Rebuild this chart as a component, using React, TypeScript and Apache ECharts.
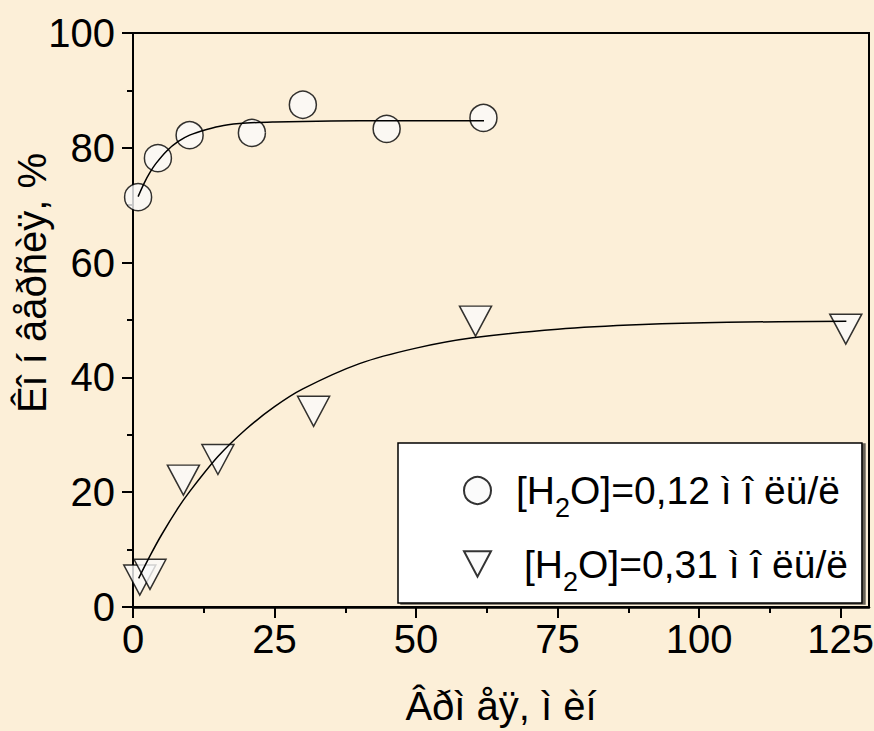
import React, { useEffect, useRef } from 'react';
import * as echarts from 'echarts';

// Axis ticks
const xMajorTicks = [0, 25, 50, 75, 100, 125];
const xMinorTicks = [12.5, 37.5, 62.5, 87.5, 112.5];

// Measured points
const series1Name = 'H2O_012';
const series1X = [0.9, 4.4, 10.0, 21.0, 30.0, 44.8, 61.9];
const series1Y = [71.4, 78.2, 82.2, 82.6, 87.5, 83.3, 85.2];

const series2Name = 'H2O_031';
const series2X = [1.2, 3.0, 8.9, 15.0, 31.9, 60.5, 125.9];
const series2Y = [4.7, 5.7, 22.1, 25.7, 34.1, 49.8, 48.4];

// Fitted curves
const fit1X = [0.9, 2, 3, 4, 6, 8, 10, 13, 16, 20, 25, 30, 40, 50, 62];
const fit1Y = [71.5, 73.9, 75.7, 77.2, 79.5, 81.1, 82.2, 83.2, 83.9, 84.3, 84.5, 84.6, 84.7, 84.7, 84.7];
const fit2X = [1, 3, 5, 8, 10, 15, 20, 25, 30, 40, 50, 60, 75, 90, 105, 126];
const fit2Y = [5.0, 8.9, 12.5, 17.3, 20.1, 26.2, 31.0, 34.9, 38.0, 42.4, 45.1, 46.9, 48.4, 49.2, 49.6, 49.8];

const xTitle = 'Âðì åÿ, ì èí';
const yTitle = 'Êî í âåðñèÿ, %';
const legend1Parts = ['[H', '2', 'O]=0,12 ì î ëü/ë'];
const legend2Parts = ['[H', '2', 'O]=0,31 ì î ëü/ë'];

const narrow = "'Liberation Sans Narrow', 'Arial Narrow', 'Liberation Sans', Arial, sans-serif";
const regular = "'Liberation Sans', Arial, sans-serif";

const zip = (xs: number[], ys: number[]) => xs.map((x, i) => [x, ys[i]]);

const triPath = 'path://M0 0L32 0L16 30Z';

const GRID = { left: 133, top: 33, width: 736, height: 574 };

export default function App() {
  const ref = useRef<HTMLDivElement>(null);
  useEffect(() => {
    document.body.style.margin = '0';
    if (!ref.current) return;
    const chart = echarts.init(ref.current, undefined, { renderer: 'svg' });
    const rich = {
      a: { fontSize: 39, fontFamily: narrow, color: '#000', lineHeight: 50, verticalAlign: 'middle' },
      b: { fontSize: 39, fontFamily: narrow, color: '#000', lineHeight: 50, verticalAlign: 'middle', padding: [0, 0, 0, 8] },
      s: { fontSize: 27, fontFamily: narrow, color: '#000', lineHeight: 50, verticalAlign: 'bottom', padding: [0, 0, -6, 0] },
    };
    chart.setOption({
      animation: false,
      backgroundColor: '#FCEFD8',
      grid: [
        {
          ...GRID,
          containLabel: false, outerBoundsMode: 'none',
          show: true, borderColor: '#000', borderWidth: 2, backgroundColor: 'transparent',
        },
        { ...GRID, containLabel: false, outerBoundsMode: 'none', show: false },
      ],
      graphic: [
        {
          type: 'text',
          x: 32, y: 283,
          rotation: Math.PI / 2,
          style: {
            text: yTitle,
            fontSize: 40,
            fontFamily: regular,
            fill: '#000',
            align: 'center',
            verticalAlign: 'middle',
          },
          z: 10,
        },
      ],
      legend: {
        orient: 'vertical',
        left: 398, top: 443,
        data: [series1Name, series2Name],
        itemWidth: 27, itemHeight: 27, itemGap: 23,
        padding: [28, 14, 8, 65],
        backgroundColor: '#fff',
        borderColor: '#000', borderWidth: 1.5,
        shadowColor: 'rgba(0,0,0,0.6)', shadowOffsetX: 3, shadowOffsetY: 1, shadowBlur: 0,
        formatter: (name: string) =>
          name === series1Name
            ? `{a|${legend1Parts[0]}}{s|${legend1Parts[1]}}{a|${legend1Parts[2]}}`
            : `{b|${legend2Parts[0]}}{s|${legend2Parts[1]}}{a|${legend2Parts[2]}}`,
        textStyle: { padding: [0, 0, 0, 20], rich },
        selectedMode: false,
      },
      xAxis: [
        {
          type: 'value', gridIndex: 0, position: 'bottom', min: 0, max: 130, interval: 25,
          name: xTitle, nameLocation: 'middle', nameGap: 79,
          nameTextStyle: { fontSize: 40, fontFamily: regular, color: '#000' },
          axisLine: { lineStyle: { color: '#000', width: 2.5 } },
          axisTick: { show: true, inside: false, length: 11, lineStyle: { color: '#000', width: 2 }, customValues: xMajorTicks },
          axisLabel: { fontSize: 40, fontFamily: narrow, color: '#000', margin: 12, customValues: xMajorTicks },
          splitLine: { show: false },
        },
        {
          type: 'value', gridIndex: 1, position: 'bottom', min: 0, max: 130,
          axisLine: { show: false },
          axisTick: { show: true, inside: false, length: 6, lineStyle: { color: '#000', width: 2 }, customValues: xMinorTicks },
          axisLabel: { show: false },
          splitLine: { show: false },
        },
      ],
      yAxis: [
        {
          type: 'value', gridIndex: 0, min: 0, max: 100, interval: 20,
          axisLine: { show: true, lineStyle: { color: '#000', width: 2 } },
          axisTick: { show: true, inside: false, length: 11, lineStyle: { color: '#000', width: 2 } },
          minorTick: { show: true, splitNumber: 2, length: 6, lineStyle: { color: '#000', width: 2 } },
          axisLabel: { fontSize: 40, fontFamily: narrow, color: '#000', margin: 18 },
          splitLine: { show: false },
          minorSplitLine: { show: false },
        },
        {
          type: 'value', gridIndex: 1, min: 0, max: 100, show: false,
        },
      ],
      series: [
        {
          name: series1Name, type: 'scatter', data: zip(series1X, series1Y),
          symbol: 'circle', symbolSize: 27,
          itemStyle: { color: '#FAFAFA', borderColor: '#000', borderWidth: 1.5 },
          z: 2,
        },
        {
          name: series2Name, type: 'scatter', data: zip(series2X, series2Y),
          symbol: triPath, symbolSize: [32, 30],
          itemStyle: { color: '#FAFAFA', borderColor: '#000', borderWidth: 1.5 },
          z: 2,
        },
        {
          name: 'fit1', type: 'line', data: zip(fit1X, fit1Y), smooth: 0.3,
          showSymbol: false, symbol: 'none',
          lineStyle: { color: '#000', width: 1.5 }, z: 3,
        },
        {
          name: 'fit2', type: 'line', data: zip(fit2X, fit2Y), smooth: 0.3,
          showSymbol: false, symbol: 'none',
          lineStyle: { color: '#000', width: 1.5 }, z: 3,
        },
      ],
    });
    return () => chart.dispose();
  }, []);
  return <div ref={ref} style={{ width: 874, height: 731 }} />;
}
